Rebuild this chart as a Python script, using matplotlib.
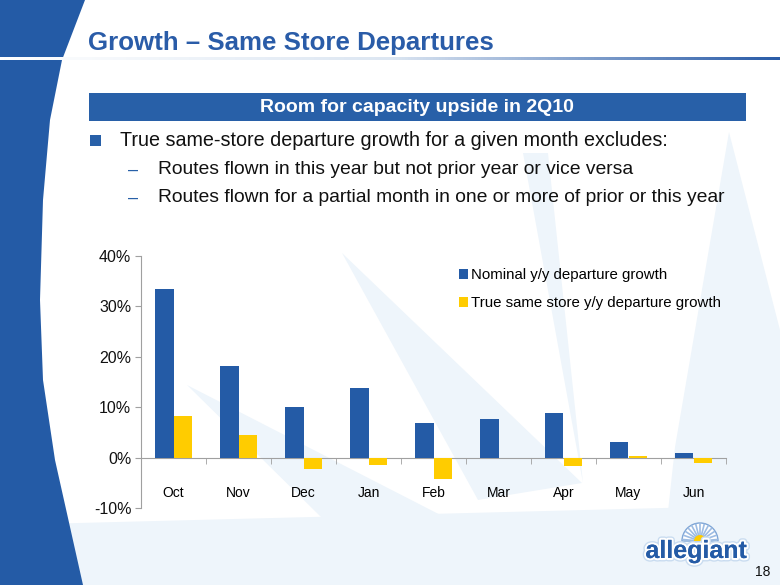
import numpy as np
import matplotlib.pyplot as plt
from matplotlib.patches import Polygon, Rectangle, Wedge
from matplotlib.colors import LinearSegmentedColormap
import matplotlib.patheffects as pe

plt.rcParams['font.family'] = ['Liberation Sans', 'DejaVu Sans']

# data
months = ['Oct', 'Nov', 'Dec', 'Jan', 'Feb', 'Mar', 'Apr', 'May', 'Jun']
nominal = [33.5, 18.1, 10.0, 13.8, 6.9, 7.7, 8.9, 3.0, 0.9]
same_store = [8.3, 4.4, -2.2, -1.5, -4.3, 0.0, -1.7, 0.3, -1.0]
yticks = [-10, 0, 10, 20, 30, 40]
series_names = ['Nominal y/y departure growth', 'True same store y/y departure growth']

BLUE = '#245BA6'
YELLOW = '#FFCC00'
PALE = '#EEF5FB'
TXT = '#111111'

fig = plt.figure(figsize=(7.8, 5.85), dpi=100)
fig.patch.set_facecolor('white')

# slide background (pixel coords)
bg = fig.add_axes([0, 0, 1, 1])
bg.set_xlim(0, 780)
bg.set_ylim(585, 0)
bg.axis('off')

# pale swooshes
swooshes = [
    [(0, 525), (780, 505), (780, 585), (0, 585)],
    [(342, 253), (582, 483), (478, 500)],
    [(187, 385), (577, 585), (390, 585)],
    [(523, 153), (548, 153), (583, 483)],
    [(729, 132), (780, 330), (780, 585), (660, 585), (675, 447)],
]
for pts in swooshes:
    bg.add_patch(Polygon(pts, closed=True, color=PALE, lw=0, zorder=0))

# left blue curved band
curve = [(85, 0), (62, 60), (50, 120), (43, 200), (40, 300), (43, 380), (55, 460), (83, 585)]
bg.add_patch(Polygon([(0, 0)] + curve + [(0, 585)], closed=True, color=BLUE, lw=0, zorder=1))

# title underline gradient
cmap = LinearSegmentedColormap.from_list('ul', ['#FFFFFF', '#DCE6F2', '#2A5CA8'])
grad = np.linspace(0, 1, 256).reshape(1, -1)
bg.imshow(grad, cmap=cmap, extent=(0, 780, 60, 57), aspect='auto', zorder=2)
bg.set_xlim(0, 780)
bg.set_ylim(585, 0)

bg.text(88, 43, 'Growth \u2013 Same Store Departures', fontsize=18.6, fontweight='bold',
        color='#2A5CA8', va='center', ha='left', zorder=3)

# banner
bg.add_patch(Rectangle((89, 93), 657, 28, color='#2860A8', lw=0, zorder=2))
bg.text(417, 107.5, 'Room for capacity upside in 2Q10', fontsize=14, fontweight='bold',
        color='white', ha='center', va='center', zorder=3)

# bullets
bg.add_patch(Rectangle((90, 134.5), 11, 11, color='#2860A8', lw=0, zorder=2))
bg.text(120, 140, 'True same-store departure growth for a given month excludes:',
        fontsize=14.2, color=TXT, va='center', zorder=3)
for yy, s in [(170, 'Routes flown in this year but not prior year or vice versa'),
              (198, 'Routes flown for a partial month in one or more of prior or this year')]:
    bg.text(128, yy, '\u2013', fontsize=13, color='#2860A8', va='center', zorder=3)
    bg.text(158, yy, s, fontsize=13.9, color=TXT, va='center', zorder=3)

# logo
bg.add_patch(Wedge((700, 541), 18, 180, 360, color='white', ec='#7FA6D6', lw=1, zorder=3))
for ang in np.linspace(185, 355, 13):
    a = np.deg2rad(ang)
    bg.plot([700 + 6 * np.cos(a), 700 + 17 * np.cos(a)],
            [541 + 6 * np.sin(a), 541 + 17 * np.sin(a)], color='#9DBCE3', lw=1.2, zorder=4)
bg.add_patch(Wedge((700, 541), 6, 180, 360, color=YELLOW, lw=0, zorder=4))
bg.text(696, 551, 'allegiant', fontsize=18, fontweight='bold', color=BLUE,
        ha='center', va='center', zorder=5,
        path_effects=[pe.withStroke(linewidth=5, foreground='#C9DCF0'),
                      pe.withStroke(linewidth=3, foreground='white'), pe.Normal()])
bg.text(763, 572, '18', fontsize=10, color=TXT, ha='center', va='center', zorder=5)

# chart
ax = fig.add_axes([141 / 780, (585 - 508) / 585, (726 - 141) / 780, (508 - 256) / 585])
ax.patch.set_alpha(0)
x = np.arange(len(months))
w = 0.285
ax.bar(x - w / 2, nominal, w, color=BLUE, label=series_names[0], zorder=3)
ax.bar(x + w / 2, same_store, w, color=YELLOW, label=series_names[1], zorder=3)

ax.set_xlim(-0.5, len(months) - 0.5)
ax.set_ylim(-10, 40)
ax.set_yticks(yticks)
ax.set_yticklabels([f'{v}%' for v in yticks], fontsize=11.5, color=TXT)
ax.set_xticks(x)
ax.set_xticklabels(months, fontsize=12, color=TXT)
ax.set_xticks(np.arange(len(months)) + 0.5, minor=True)
ax.tick_params(axis='x', which='major', length=0, pad=20.5)
ax.tick_params(axis='x', which='minor', length=4, color='#A0A0A0', direction='out')
ax.tick_params(axis='y', length=4, color='#A0A0A0', pad=3)
for s in ['top', 'right']:
    ax.spines[s].set_visible(False)
ax.spines['left'].set_color('#A0A0A0')
ax.spines['bottom'].set_color('#A0A0A0')
ax.spines['bottom'].set_position(('data', 0))

ax.legend(loc='upper left', bbox_to_anchor=(0.52, 1.005), frameon=False, fontsize=10.8,
          handlelength=0.6, handleheight=0.6, handletextpad=0.25, labelspacing=0.95)

fig.savefig('out.png', dpi=100)
